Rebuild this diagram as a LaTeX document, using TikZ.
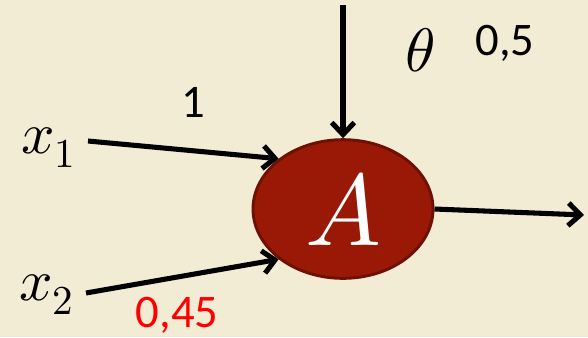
\documentclass[tikz,border=0pt]{standalone}
\usepackage{fontspec}
\usepackage{unicode-math}
\newfontfamily\numfont{Carlito}
\usetikzlibrary{arrows.meta, shapes.geometric}
\definecolor{parchment}{HTML}{F3ECD4}
\definecolor{cellred}{HTML}{9A1906}
\definecolor{cellrim}{HTML}{6E1004}

\begin{document}
\begin{tikzpicture}[x=0.75pt, y=-0.75pt, >={Straight Barb[length=9pt,width=17pt]},
    signal/.style={->, line width=3.8pt},
    neuron/.style={ellipse, draw=cellrim, line width=2.2pt, fill=cellred, text=white,
        minimum width=135pt, minimum height=104pt, inner sep=0pt},
    weight/.style={font=\fontsize{35}{35}\selectfont\numfont, inner sep=0pt}]
    \fill[parchment] (0,0) rectangle (588,337);

    \node[neuron, font=\fontsize{76}{76}\selectfont] (A) at (343,209) {$A$};

    \node[anchor=base west, inner sep=0pt, font=\fontsize{44}{44}\selectfont] (x1) at (21,153) {$x_1$};
    \node[anchor=base west, inner sep=0pt, font=\fontsize{44}{44}\selectfont] (x2) at (19,300) {$x_2$};
    \node[inner sep=0pt, font=\fontsize{46}{46}\selectfont] (theta) at (420,50) {$\theta$};

    \node[weight, anchor=base] (w1) at (193,117) {1};
    \node[weight, anchor=base] (w0) at (505,55) {0,5};
    \node[weight, anchor=base, text=red] (w2) at (177,327) {0,45};

    \coordinate (in1) at (88,141);
    \coordinate (in2) at (86,293);
    \coordinate (bias) at (343,5);
    \coordinate (out) at (584,215);

    \draw[signal] (in1) -- (A.142);
    \draw[signal] (in2) -- (A.218);
    \draw[signal] (bias) -- (A.north);
    \draw[signal] (A.east) -- (out);
\end{tikzpicture}
\end{document}
